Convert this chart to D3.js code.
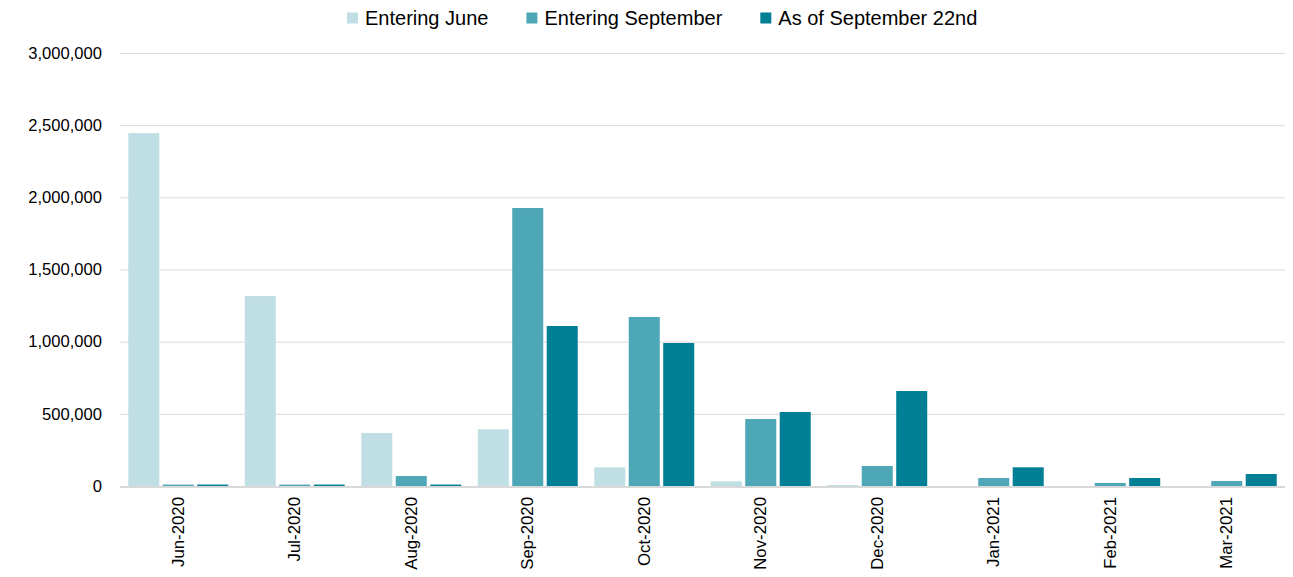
<!DOCTYPE html>
<html>
<head>
<meta charset="utf-8">
<script src="https://cdn.jsdelivr.net/npm/d3@7.9.0/dist/d3.min.js"></script>
<style>
  body { margin: 0; background: #fff; }
  text { font-family: "Liberation Sans", Arial, sans-serif; fill: #000; }
</style>
</head>
<body>
<svg id="chart" width="1293" height="577"></svg>
<script>
// chart values
const months = ["Jun-2020", "Jul-2020", "Aug-2020", "Sep-2020", "Oct-2020",
                "Nov-2020", "Dec-2020", "Jan-2021", "Feb-2021", "Mar-2021"];
const seriesNames = ["Entering June", "Entering September", "As of September 22nd"];
const enteringJune = [2445000, 1316000, 367000, 393000, 129500, 32500, 7000, 0, 0, 0];
const enteringSeptember = [10000, 10000, 69000, 1926000, 1171000, 464000, 138600, 55400, 20800, 34600];
const asOfSep22 = [10000, 10000, 10000, 1108500, 990800, 512700, 658000, 129600, 55400, 83000];
const yTicks = [0, 500000, 1000000, 1500000, 2000000, 2500000, 3000000];
const colors = ["#c0dfe4", "#4ea7b6", "#007f95"];

const seriesValues = [enteringJune, enteringSeptember, asOfSep22];

const svg = d3.select("#chart");
const plotLeft = 120, plotRight = 1285, plotTop = 53, plotBottom = 486;

const x0 = d3.scaleBand().domain(months).range([plotLeft, plotRight]);
const x1 = d3.scaleBand().domain(seriesNames).range([0, x0.step()])
  .paddingInner(0.1).paddingOuter(0.24);
const y = d3.scaleLinear().domain([0, 3000000]).range([plotBottom, plotTop]);

// gridlines
svg.append("g")
  .selectAll("line")
  .data(yTicks.filter(d => d > 0))
  .enter().append("line")
  .attr("x1", plotLeft).attr("x2", plotRight)
  .attr("y1", d => y(d) + 0.5).attr("y2", d => y(d) + 0.5)
  .attr("stroke", "#d9d9d9").attr("stroke-width", 1);

// y axis labels
const yAxis = d3.axisLeft(y).tickValues(yTicks).tickFormat(d3.format(",")).tickSize(0).tickPadding(18);
svg.append("g")
  .attr("transform", `translate(${plotLeft},0)`)
  .call(yAxis)
  .call(g => g.select(".domain").remove())
  .call(g => g.selectAll("text").attr("font-size", 16.6).attr("fill", "#000")
    .attr("font-family", "Liberation Sans, Arial, sans-serif"));

// bars
const groups = svg.append("g")
  .selectAll("g")
  .data(months)
  .enter().append("g")
  .attr("transform", d => `translate(${x0(d)},0)`);

groups.selectAll("rect")
  .data((m, i) => seriesNames.map((s, k) => ({ s, k, v: seriesValues[k][i] })))
  .enter().append("rect")
  .attr("x", d => x1(d.s))
  .attr("width", x1.bandwidth())
  .attr("y", d => y(d.v))
  .attr("height", d => plotBottom - y(d.v))
  .attr("fill", d => colors[d.k]);

// baseline
svg.append("line")
  .attr("x1", plotLeft).attr("x2", plotRight)
  .attr("y1", plotBottom + 1).attr("y2", plotBottom + 1)
  .attr("stroke", "#d9d9d9").attr("stroke-width", 2);

// x labels, rotated
const xAxis = d3.axisBottom(x0).tickSize(0).tickPadding(0);
svg.append("g")
  .attr("transform", `translate(0,${plotBottom})`)
  .call(xAxis)
  .call(g => g.select(".domain").remove())
  .call(g => g.selectAll("text")
    .attr("font-size", 16.8)
    .attr("fill", "#000")
    .attr("font-family", "Liberation Sans, Arial, sans-serif")
    .attr("text-anchor", "end")
    .attr("dy", null)
    .attr("y", 0)
    .attr("dominant-baseline", "central")
    .attr("transform", "translate(0,11) rotate(-90)"));

// legend
const legend = svg.append("g");
const items = legend.selectAll("g").data(seriesNames).enter().append("g");
items.append("rect").attr("width", 11).attr("height", 11).attr("y", -5.5)
  .attr("fill", (d, i) => colors[i]);
items.append("text").attr("x", 18).attr("y", 0).attr("dy", "0.35em")
  .attr("font-size", 20).text(d => d);

let cx = 0;
items.each(function () {
  const w = 18 + d3.select(this).select("text").node().getComputedTextLength();
  d3.select(this).attr("transform", `translate(${cx},0)`);
  cx += w + 38;
});
legend.attr("transform", `translate(347,18)`);
</script>
</body>
</html>
